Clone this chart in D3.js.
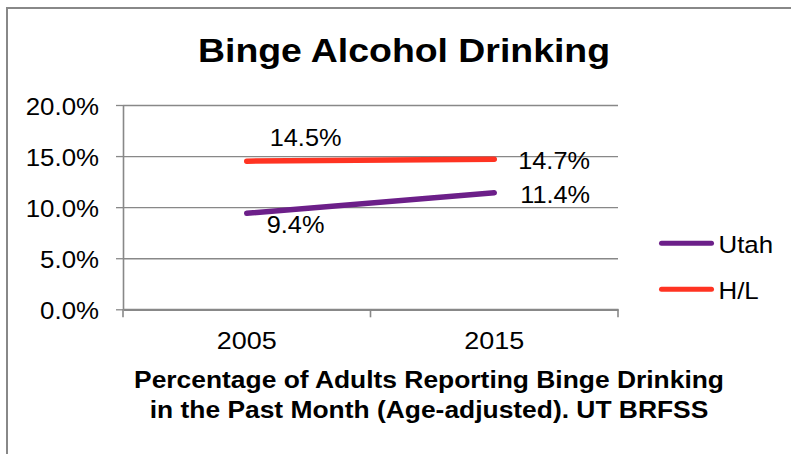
<!DOCTYPE html>
<html>
<head>
<meta charset="utf-8">
<script src="https://cdn.jsdelivr.net/npm/d3@7"></script>
<style>
  html, body { margin: 0; padding: 0; background: #fff; }
  svg { display: block; }
</style>
</head>
<body>
<svg id="chart" width="791" height="454"></svg>
<script>
// ---- data ----
const categories = ["2005", "2015"];
const utahValues = [9.4, 11.4];
const hlValues = [14.5, 14.7];
const seriesNames = ["Utah", "H/L"];
const yTickValues = [0, 5, 10, 15, 20];
const titleText = "Binge Alcohol Drinking";
const xTitleLines = [
  "Percentage of Adults Reporting Binge Drinking",
  "in the Past Month (Age-adjusted). UT BRFSS"
];

// ---- styling / layout ----
const series = [
  { name: seriesNames[0], values: utahValues, color: "#6C1F89" },
  { name: seriesNames[1], values: hlValues, color: "#FF3322" }
];
// where each value label sits relative to its point (px)
const labelOffsets = {
  "Utah": [[20, 20], [26, 10]],
  "H/L": [[23, -15.5], [24, 10]]
};

const FONT = "'Liberation Sans', Arial, Helvetica, sans-serif";
const SX = 1.1;              // slight horizontal widening of the lettering
const GRID = "#888888";
const plot = { left: 123, right: 618, top: 105, bottom: 309.3 };

const svg = d3.select("#chart");

// chart frame
svg.append("rect")
  .attr("x", 7).attr("y", 8)
  .attr("width", 800).attr("height", 460)
  .attr("fill", "#fff")
  .attr("stroke", GRID).attr("stroke-width", 2);

const x = d3.scaleBand().domain(categories).range([plot.left, plot.right]);
const y = d3.scaleLinear().domain([0, 20]).range([plot.bottom, plot.top]);
const cx = c => x(c) + x.bandwidth() / 2;

// text helper: places a horizontally widened label with its baseline at (px, py)
function label(parent, px, py, text, size, weight, anchor) {
  return parent.append("text")
    .attr("transform", `translate(${px},${py}) scale(${SX},1)`)
    .attr("text-anchor", anchor || "start")
    .attr("font-family", FONT)
    .attr("font-size", size)
    .attr("font-weight", weight || "normal")
    .attr("fill", "#000")
    .text(text);
}

// title
label(svg, 404, 62.3, titleText, 34, "bold", "middle");

// y axis with gridlines
const yAxis = svg.append("g")
  .attr("transform", `translate(${plot.left},0)`)
  .call(d3.axisLeft(y)
    .tickValues(yTickValues)
    .tickFormat(d => d.toFixed(1) + "%")
    .tickSizeInner(7)
    .tickSizeOuter(0));
yAxis.select(".domain").attr("stroke", GRID).attr("stroke-width", 1.6);
yAxis.selectAll(".tick line").attr("stroke", GRID).attr("stroke-width", 1.3);
yAxis.selectAll(".tick")
  .filter(d => d !== 0)
  .append("line")
  .attr("x1", 0).attr("x2", plot.right - plot.left)
  .attr("stroke", GRID).attr("stroke-width", 1.3);
yAxis.selectAll(".tick text")
  .attr("x", -24 / SX)
  .attr("y", 9.3)
  .attr("dy", null)
  .attr("transform", `scale(${SX},1)`)
  .attr("font-family", FONT)
  .attr("font-size", 23.5)
  .attr("fill", "#000");

// x axis: labels centred in bands, ticks on band edges
const xAxis = svg.append("g")
  .attr("transform", `translate(0,${plot.bottom})`)
  .call(d3.axisBottom(x).tickSize(0).tickSizeOuter(0));
xAxis.select(".domain").attr("stroke", GRID).attr("stroke-width", 2.2);
xAxis.selectAll(".tick text")
  .attr("y", 40)
  .attr("dy", null)
  .attr("transform", `scale(${SX},1)`)
  .attr("x", 0)
  .attr("font-family", FONT)
  .attr("font-size", 24.5)
  .attr("fill", "#000");
// widen about each tick origin
xAxis.selectAll(".tick text").attr("transform", `scale(${SX},1)`);
const edges = categories.map(c => x(c)).concat([plot.right]);
xAxis.selectAll("line.edge")
  .data(edges)
  .join("line")
  .attr("class", "edge")
  .attr("x1", d => d).attr("x2", d => d)
  .attr("y1", 0).attr("y2", 8)
  .attr("stroke", GRID).attr("stroke-width", 1.6);

// series lines
const line = d3.line()
  .x((d, i) => cx(categories[i]))
  .y(d => y(d));

svg.append("g").selectAll("path")
  .data(series)
  .join("path")
  .attr("d", s => line(s.values))
  .attr("fill", "none")
  .attr("stroke", s => s.color)
  .attr("stroke-width", 5.5)
  .attr("stroke-linecap", "round");

// value labels
const labels = svg.append("g");
series.forEach(s => {
  s.values.forEach((v, i) => {
    const [dx, dy] = labelOffsets[s.name][i];
    label(labels, cx(categories[i]) + dx, y(v) + dy, v.toFixed(1) + "%", 23, "normal", "start");
  });
});

// legend
const legend = svg.append("g");
series.forEach((s, i) => {
  const ly = 243.3 + i * 46;
  legend.append("line")
    .attr("x1", 661.5).attr("x2", 711.5)
    .attr("y1", ly).attr("y2", ly)
    .attr("stroke", s.color)
    .attr("stroke-width", 5)
    .attr("stroke-linecap", "round");
  label(legend, 718.5, ly + 10, s.name, 23.5, "normal", "start");
});

// x axis title
xTitleLines.forEach((t, i) => {
  label(svg, 429, 388.3 + i * 29.7, t, 24, "bold", "middle");
});
</script>
</body>
</html>
